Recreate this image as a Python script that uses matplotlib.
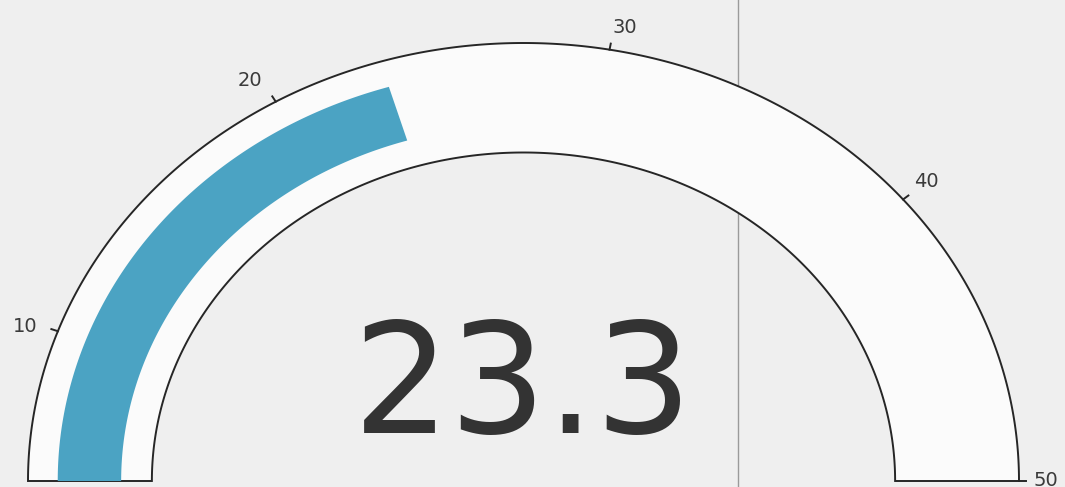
import numpy as np
import matplotlib
matplotlib.use("Agg")
import matplotlib.pyplot as plt

# ---- data ----
gauge_min = 5
gauge_max = 50
value = 23.3
tick_values = [10, 20, 30, 40, 50]
tick_labels = ["10", "20", "30", "40", "50"]

# ---- layout (pixel space) ----
W, H = 1065, 487
cx, cy = 523.5, 481.0
rx, ry = 495.5, 438.0
r_in = 0.75
bar_r0, bar_r1 = 0.812, 0.94
bg = "#efefef"
bar_color = "#4ba3c3"
line_color = "#262626"
text_color = "#333333"
fam = ["DejaVu Sans"]

fig = plt.figure(figsize=(W / 100, H / 100), dpi=100, facecolor=bg)
ax = fig.add_axes([0, 0, 1, 1])
ax.set_xlim(0, W)
ax.set_ylim(H, 0)
ax.axis("off")
ax.set_facecolor(bg)


def ang(v):
    return np.pi - (v - gauge_min) / (gauge_max - gauge_min) * np.pi


def pt(theta, r):
    return cx + rx * r * np.cos(theta), cy - ry * r * np.sin(theta)


# gauge background band
t = np.linspace(np.pi, 0, 400)
xo, yo = pt(t, 1.0)
xi, yi = pt(t[::-1], r_in)
ax.fill(np.concatenate([xo, xi]), np.concatenate([yo, yi]),
        facecolor="#fbfbfb", edgecolor=line_color, lw=1.4, joinstyle="miter", zorder=1)

# value bar
tb = np.linspace(np.pi, ang(value), 300)
xo, yo = pt(tb, bar_r1)
xi, yi = pt(tb[::-1], bar_r0)
ax.fill(np.concatenate([xo, xi]), np.concatenate([yo, yi]),
        facecolor=bar_color, edgecolor="none", zorder=2)

# ticks and labels
for v, lab in zip(tick_values, tick_labels):
    th = ang(v)
    x0, y0 = pt(th, 1.0)
    x1, y1 = pt(th, 1.014)
    ax.plot([x0, x1], [y0, y1], color=line_color, lw=1.4, zorder=3)
    lx, ly = pt(th, 1.03)
    c, s = np.cos(th), np.sin(th)
    if c < -0.05:
        ha, lx = "right", lx - 6
    elif c > 0.05:
        ha = "left"
    else:
        ha = "center"
    va = "bottom" if s > 0.5 else "center"
    ax.text(lx, ly, lab, ha=ha, va=va, fontsize=14, color="#3a3a3a",
            family=fam, zorder=4)

# central value
ax.text(cx, 433, f"{value:.1f}", ha="center", va="baseline", fontsize=110,
        color=text_color, family=fam, zorder=4)

# scan fold line
ax.axvline(738, color="#9a9a9a", lw=1.0, zorder=0.5)

fig.savefig("out.png", dpi=100, facecolor=bg)
